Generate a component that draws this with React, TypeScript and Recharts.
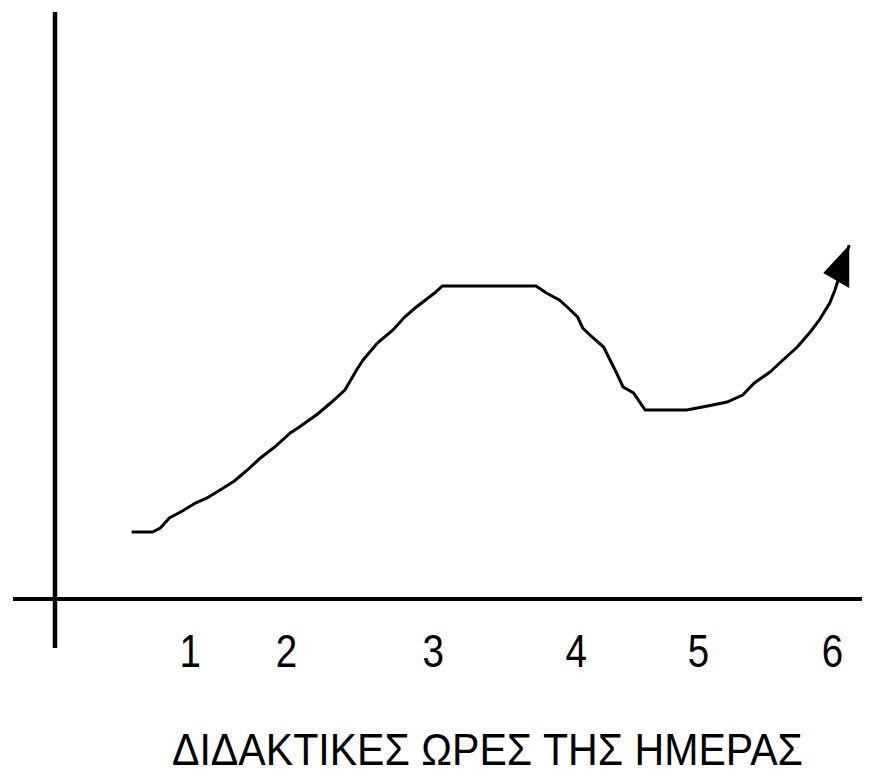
import React from "react";
import { LineChart, Line, XAxis, YAxis, ReferenceLine, Label } from "recharts";

// position along the hours axis (unevenly spaced in the original drawing)
const hourPos = [
  0.59, 0.75, 0.81, 0.88, 0.98, 1.08, 1.17, 1.27, 1.38, 1.48, 1.58, 1.69, 1.81,
  1.88, 2.02, 2.12, 2.23, 2.32, 2.37, 2.48, 2.6, 2.69, 2.77, 2.92, 2.98, 3.7,
  3.78, 3.88, 3.94, 4.02, 4.06, 4.14, 4.22, 4.27, 4.32, 4.37, 4.45, 4.54, 4.86,
  5.02, 5.17, 5.29, 5.38, 5.5, 5.6, 5.71, 5.81, 5.88, 5.96, 6.0, 6.11,
];
const level = [
  0.67, 0.67, 0.71, 0.81, 0.88, 0.96, 1.01, 1.09, 1.18, 1.29, 1.41, 1.52, 1.66,
  1.72, 1.85, 1.96, 2.09, 2.29, 2.39, 2.56, 2.69, 2.82, 2.91, 3.06, 3.13, 3.13,
  3.06, 2.99, 2.92, 2.82, 2.71, 2.61, 2.52, 2.39, 2.26, 2.12, 2.06, 1.89, 1.89,
  1.93, 1.97, 2.04, 2.16, 2.27, 2.39, 2.52, 2.67, 2.79, 2.96, 3.09, 3.54,
];

const tickPos = [1.04, 1.78, 2.91, 4.01, 4.95, 5.98];
const tickLabels = ["1", "2", "3", "4", "5", "6"];
const title = "ΔΙΔΑΚΤΙΚΕΣ ΩΡΕΣ ΤΗΣ ΗΜΕΡΑΣ";

const data = hourPos.map((x, i) => ({ x, y: level[i] }));

const FONT = "'Liberation Sans', Arial, sans-serif";

const HourTick = (props: any) => {
  const { x, y, payload } = props;
  const idx = tickPos.indexOf(payload.value);
  return (
    <text
      transform={`translate(${x},${y}) scale(0.82,1)`}
      dy={19}
      textAnchor="middle"
      fontFamily={FONT}
      fontSize={47}
      fill="#000"
    >
      {tickLabels[idx]}
    </text>
  );
};

const renderTitle = (props: any) => {
  const vb = props.viewBox;
  return (
    <text
      x={vb.x + 159}
      y={vb.y + 117}
      textLength={631}
      lengthAdjust="spacingAndGlyphs"
      fontFamily={FONT}
      fontSize={44}
      fill="#000"
    >
      {title}
    </text>
  );
};

const renderArrow = (props: any) => {
  const { cx, cy, index } = props;
  if (index !== hourPos.length - 1) return <g key={`d${index}`} />;
  return (
    <polygon
      key={`d${index}`}
      points={`${cx},${cy} ${cx - 26},${cy + 28} ${cx},${cy + 43}`}
      fill="#000"
    />
  );
};

export default function App() {
  return (
    <div style={{ position: "absolute", left: 0, top: 0, background: "#fff" }}>
      <LineChart
        width={870}
        height={779}
        data={data}
        margin={{ top: 12, right: 8, bottom: 0, left: 13 }}
      >
        <XAxis
          type="number"
          dataKey="x"
          domain={[-0.323, 6.208]}
          allowDataOverflow
          ticks={tickPos}
          axisLine={false}
          tickLine={false}
          tickSize={0}
          tickMargin={0}
          height={131}
          tick={<HourTick />}
        >
          <Label content={renderTitle} />
        </XAxis>
        <YAxis type="number" domain={[-0.49, 5.87]} allowDataOverflow hide />
        <ReferenceLine y={0} stroke="#000" strokeWidth={4} />
        <ReferenceLine x={0} stroke="#000" strokeWidth={4.5} />
        <Line
          type="linear"
          dataKey="y"
          stroke="#000"
          strokeWidth={3}
          dot={renderArrow}
          activeDot={false}
          isAnimationActive={false}
        />
      </LineChart>
    </div>
  );
}
